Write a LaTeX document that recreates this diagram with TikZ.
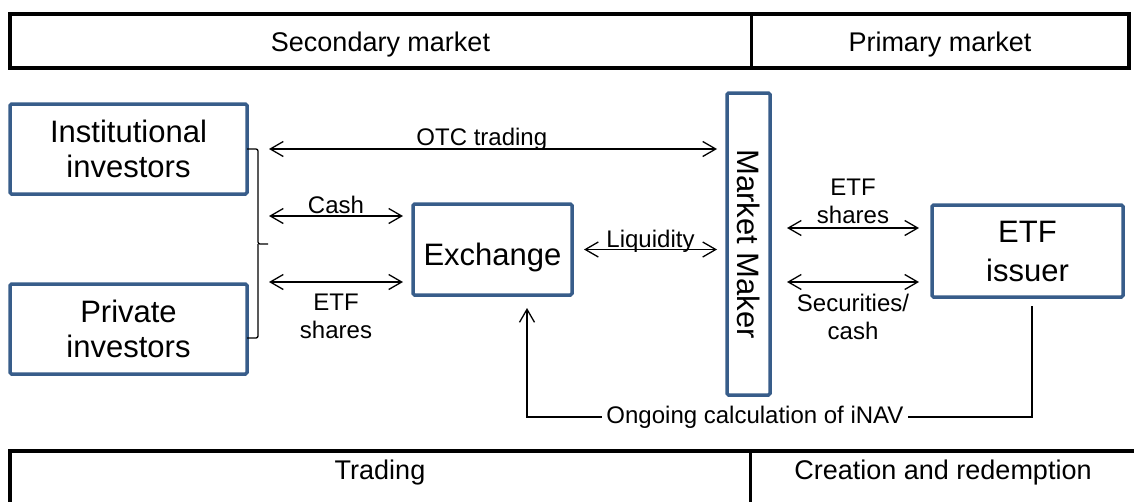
\documentclass[tikz,border=0pt]{standalone}
\usepackage{fontspec}
\setmainfont{Liberation Sans}
\usetikzlibrary{arrows.meta}
\definecolor{boxblue}{HTML}{385D8A}
\begin{document}
\begin{tikzpicture}[x=1pt,y=-1pt,
  box/.style={draw=boxblue, line width=3.5pt, fill=white, rounded corners=1.5pt,
    outer sep=0pt, inner sep=0pt, align=center, font=\fontsize{31}{35}\selectfont},
  hdrtext/.style={font=\fontsize{27}{32}\selectfont, inner sep=0pt, anchor=base},
  lbl/.style={font=\fontsize{24}{28}\selectfont, inner sep=0pt, align=center},
  conn/.style={line width=1.3pt, {Straight Barb[length=13pt,width=15pt]}-{Straight Barb[length=13pt,width=15pt]}},
  oneway/.style={line width=1.3pt, -{Straight Barb[length=13pt,width=15pt]}},
  bracepath/.style={line width=1.3pt, rounded corners=2pt},
  hdrline/.style={line width=3.5pt},
  divline/.style={line width=3pt}
]
\useasboundingbox (0,0) rectangle (1134,501);

% header bars
\draw[hdrline] (10,14) rectangle (1129,68);
\draw[divline] (751,14) -- (751,68);
\node[hdrtext] (sec) at (380.5,51.5) {Secondary market};
\node[hdrtext] (prim) at (940,51.5) {Primary market};

\draw[hdrline] (10,510) -- (10,451) -- (1140,451);
\draw[divline] (750,451) -- (750,510);
\node[hdrtext] (trd) at (380,479) {Trading};
\node[hdrtext] (cr) at (943,479) {Creation and redemption};

% boxes
\node[box, minimum width=237pt, minimum height=90pt] (inst) at (128.5,149) {Institutional\\investors};
\node[box, minimum width=237pt, minimum height=90pt] (priv) at (128.5,329) {Private\\investors};
\node[box, minimum width=159pt, minimum height=91pt, text height=31pt, text depth=0pt] (ex) at (492.5,249.5) {Exchange};
\node[box, minimum width=43pt, minimum height=302pt] (mm) at (748.5,244) {};
\node[font=\fontsize{31}{35}\selectfont, rotate=-90, inner sep=0pt] (mmt) at (mm.center) {Market Maker};
\node[box, minimum width=191pt, minimum height=92pt, font=\fontsize{31}{39}\selectfont] (iss) at (1027.5,251) {ETF\\issuer};

% brace
\coordinate (brtip) at (268,244);
\coordinate (brbot) at (247,338);
\draw[bracepath] (inst.east) -| ([xshift=-10pt]brtip) -- (brtip);
\draw[bracepath] (brbot) -| ([xshift=-10pt]brtip);

% connectors
\draw[conn] ([xshift=1pt]brtip |- inst.east) -- ([xshift=-10pt]mm.west |- inst.east)
  node[lbl, pos=0.475, anchor=base, yshift=4pt] {OTC trading};

\coordinate (cashR) at ([xshift=-10pt,yshift=-12pt]ex.north west);
\draw[conn] ([xshift=1pt]brtip |- cashR) -- (cashR)
  node[lbl, midway, anchor=base, yshift=3pt] {Cash};

\coordinate (etfR) at ([xshift=-10pt,yshift=13pt]ex.south west);
\draw[conn] ([xshift=1pt]brtip |- etfR) -- (etfR)
  node[lbl, midway, anchor=north, yshift=-11pt] {ETF\\shares};

\draw[conn] ([xshift=12pt]ex.east) -- ([xshift=-10pt]mm.west |- ex.east)
  node[lbl, midway, anchor=base, yshift=2pt] {Liquidity};

\coordinate (etf2R) at ([xshift=-13pt,yshift=-23pt]iss.north west);
\draw[conn] ([xshift=17pt]mm.east |- etf2R) -- (etf2R)
  node[lbl, midway, anchor=south, yshift=4pt] {ETF\\shares};

\coordinate (secR) at ([xshift=-13pt,yshift=15pt]iss.south west);
\draw[conn] ([xshift=17pt]mm.east |- secR) -- (secR)
  node[lbl, midway, anchor=north, yshift=-11pt] {Securities/\\cash};

% iNAV feedback
\coordinate (inavS) at ([xshift=4.5pt,yshift=-9pt]iss.south);
\coordinate (inavE) at ([xshift=34.5pt,yshift=-13pt]ex.south);
\coordinate (inavpt) at (755,417);
\draw[oneway] (inavS) |- (inavpt) -| (inavE);
\node[lbl, fill=white, inner xsep=4pt, inner ysep=2pt] (inav) at (inavpt) {Ongoing calculation of iNAV};
\end{tikzpicture}
\end{document}
